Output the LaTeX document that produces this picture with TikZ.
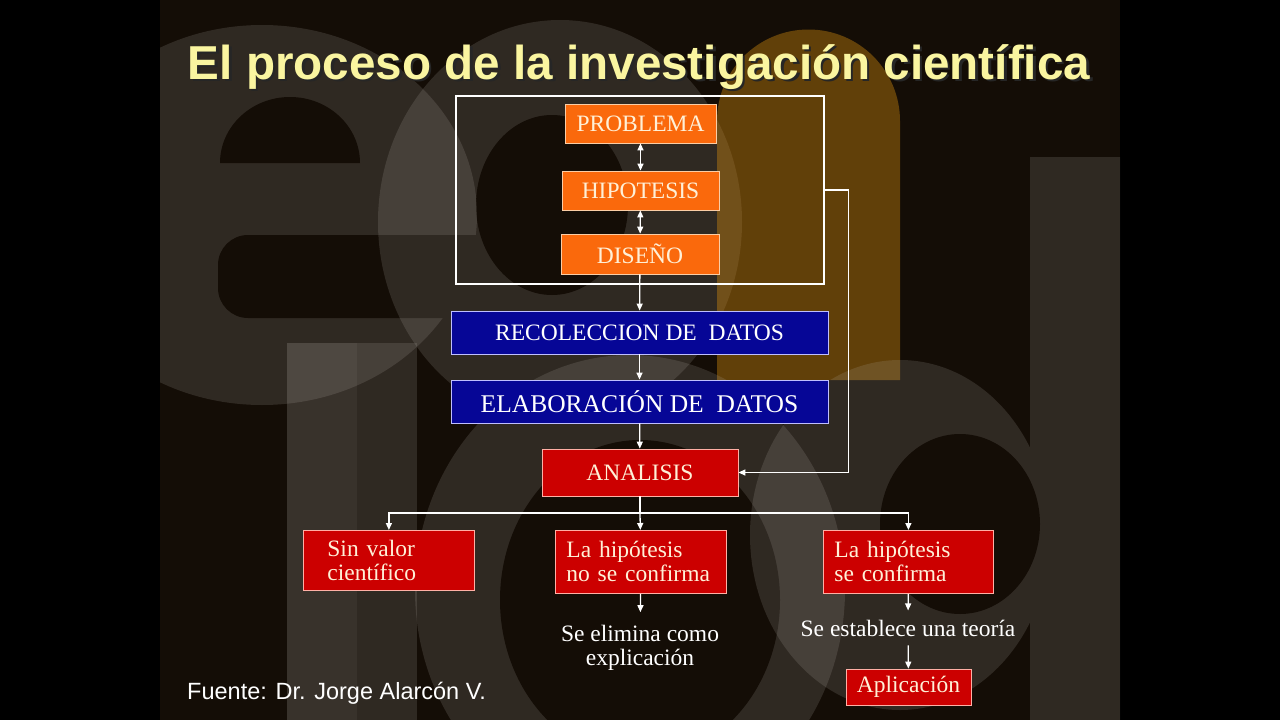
\documentclass[tikz,border=0pt]{standalone}
\usepackage{fontspec}
\setmainfont{Liberation Serif}
\newfontfamily\arialfont{Liberation Sans}
\usetikzlibrary{arrows.meta}

\definecolor{slidebg}{RGB}{20,13,6}
\definecolor{wmgray}{RGB}{185,180,175}
\definecolor{wmorange}{RGB}{205,135,15}
\definecolor{titleyellow}{RGB}{250,245,160}
\definecolor{boxorange}{RGB}{250,105,12}
\definecolor{boxblue}{RGB}{6,6,150}
\definecolor{boxred}{RGB}{204,0,0}
\definecolor{boxtext}{RGB}{255,240,215}
\definecolor{orangeedge}{RGB}{250,205,165}
\definecolor{blueedge}{RGB}{190,190,255}
\definecolor{rededge}{RGB}{255,175,165}

\begin{document}
\begin{tikzpicture}[x=1pt, y=-1pt,
    >={Triangle[width=6pt,length=7pt]},
    conn/.style={draw=white, line width=1.3pt},
    flowbox/.style={inner sep=0pt, line width=0.8pt, font=\fontsize{23.5}{24}\selectfont},
    orangebox/.style={flowbox, fill=boxorange, draw=orangeedge, text=boxtext, minimum height=39pt},
    bluebox/.style={flowbox, fill=boxblue, draw=blueedge, text=white, minimum width=377pt, minimum height=43pt},
    redbox/.style={flowbox, fill=boxred, draw=rededge, text=boxtext},
    outcome/.style={redbox, align=left, anchor=north west, minimum height=63pt, inner xsep=11pt},
    plaintext/.style={text=white, align=center, inner sep=0pt, font=\fontsize{23.5}{24}\selectfont}]
    \useasboundingbox (0,0) rectangle (1280,720);

    % Slide background
    \fill[black] (0,0) rectangle (1280,720);
    \fill[slidebg] (160,0) rectangle (1120,720);

    % Watermark letters
    \begin{scope}
        \clip (160,0) rectangle (1120,720);
        \begin{scope}[transparency group, opacity=0.17]
            \fill[wmgray] (262,215) ellipse [x radius=215pt, y radius=190pt];
            \fill[slidebg] (220,163) arc[start angle=180, end angle=0, x radius=70pt, y radius=66pt] -- cycle;
            \fill[slidebg, rounded corners=30pt] (218,235) rectangle (520,318);
        \end{scope}
        \begin{scope}[transparency group, opacity=0.17]
            \fill[wmgray] (560,222) ellipse [x radius=182pt, y radius=202pt];
            \fill[slidebg] (552,205) ellipse [x radius=76pt, y radius=90pt];
        \end{scope}
        \fill[wmorange, opacity=0.42] (717,380) -- (717,121) arc[start angle=180, end angle=0, radius=91.5pt] -- (900,380) -- cycle;
        \begin{scope}[transparency group, opacity=0.17]
            \fill[wmgray] (630,590) ellipse [x radius=215pt, y radius=235pt];
            \fill[slidebg] (640,600) ellipse [x radius=140pt, y radius=160pt];
        \end{scope}
        \fill[wmgray, opacity=0.17] (287,343) rectangle (417,720);
        \fill[wmgray, opacity=0.07] (287,343) rectangle (357,720);
        \begin{scope}[transparency group, opacity=0.17]
            \fill[wmgray] (900,535) ellipse [x radius=150pt, y radius=175pt];
            \fill[wmgray] (1030,157) rectangle (1120,720);
            \fill[slidebg] (960,524) ellipse [x radius=80pt, y radius=90pt];
        \end{scope}
    \end{scope}

    % Title
    \node[font=\arialfont\bfseries\fontsize{47.6}{50}\selectfont, text=black!85, anchor=base] (titleshadow) at (641.5,81.5) {El proceso de la investigación científica};
    \node[font=\arialfont\bfseries\fontsize{47.6}{50}\selectfont, text=titleyellow, anchor=base] (title) at (639,79) {El proceso de la investigación científica};

    % Planning steps
    \node[orangebox, minimum width=151pt] (prob) at (640.5,123.5) {PROBLEMA};
    \node[orangebox, minimum width=157pt] (hipo) at (640.5,190.5) {HIPOTESIS};
    \node[orangebox, minimum width=158pt, minimum height=40pt] (dise) at (640,254) {DISEÑO};
    \node[draw=white, line width=1.6pt, minimum width=368pt, minimum height=188pt] (marco) at (640,190) {};

    % Data and analysis
    \node[bluebox] (reco) at (639.5,332.5) {RECOLECCION DE\ \ DATOS};
    \node[bluebox, font=\fontsize{25.5}{26}\selectfont] (elab) at (639.5,401.5) {ELABORACIÓN DE\ \ DATOS};
    \node[redbox, minimum width=196pt, minimum height=47pt] (anal) at (640,472.5) {ANALISIS};

    % Outcomes
    \node[outcome, inner xsep=24pt, text width=123pt, minimum height=60pt] (sinv) at (303,530) {Sin valor\\científico};
    \node[outcome, text width=149pt] (hnoc) at (555,530) {La hipótesis\\no se confirma};
    \node[outcome, text width=148pt] (hsic) at (823,530) {La hipótesis\\se confirma};
    \node[plaintext] (elim) at (640,648) {Se elimina como\\explicación};
    \node[plaintext, anchor=base] (teor) at (908,636) {Se establece una teoría};
    \node[redbox, minimum width=125pt, minimum height=36pt] (apli) at (908.5,687) {Aplicación};

    % Connectors
    \draw[conn, <->] (prob) -- (hipo);
    \draw[conn, <->] (hipo) -- (dise);
    \draw[conn, ->] (dise) -- (reco);
    \draw[conn, ->] (reco) -- (elab);
    \draw[conn, ->] (elab) -- (anal);
    \draw[conn, ->] (marco.east) -- ++(24,0) |- (anal.east);
    \coordinate (split) at (640,513);
    \draw[conn] (anal) -- (split);
    \draw[conn, ->] (split) -| (sinv.north);
    \draw[conn, ->] (split) -| (hsic.north);
    \draw[conn, ->] (split) -- (hnoc);
    \draw[conn, ->, shorten >=13pt] (hnoc) -- (elim);
    \draw[conn, ->, shorten >=9pt] (hsic) -- (teor);
    \draw[conn, ->, shorten <=9pt] (teor) -- (apli);

    % Source
    \node[font=\arialfont\fontsize{23.5}{24}\selectfont, text=white, anchor=base west, inner sep=0pt] (fuente) at (187,699) {Fuente: Dr. Jorge Alarcón V.};
\end{tikzpicture}
\end{document}
